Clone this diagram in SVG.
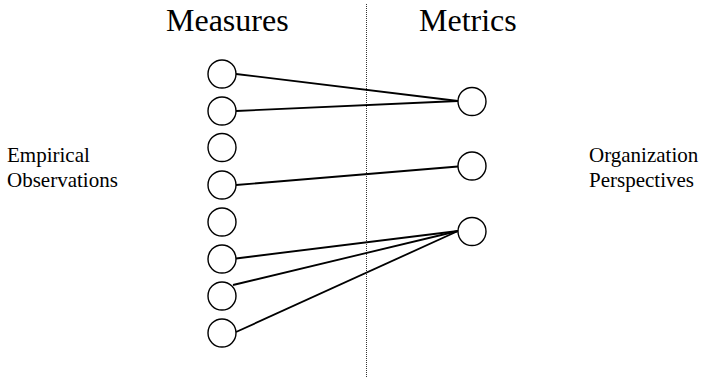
<svg xmlns="http://www.w3.org/2000/svg" width="701" height="377" viewBox="0 0 701 377">
<style>
.n{fill:#fff;stroke:#000;stroke-width:1.4}
.c line{stroke:#000;stroke-width:1.8}
.t{font-family:"Liberation Serif","Times New Roman",serif;fill:#000}
.h{font-size:32px}
.l{font-size:21px}
</style>
<rect width="701" height="377" fill="#fff"/>
<line x1="366.5" y1="4" x2="366.5" y2="377" stroke="#333" stroke-width="1" stroke-dasharray="1,1"/>
<text class="t h" x="166" y="31">Measures</text>
<text class="t h" x="419" y="31">Metrics</text>
<text class="t l" x="7" y="162">Empirical</text>
<text class="t l" x="7" y="187">Observations</text>
<text class="t l" x="589" y="162">Organization</text>
<text class="t l" x="589" y="187">Perspectives</text>
<g class="c">
<line x1="236" y1="74" x2="458" y2="101"/>
<line x1="236" y1="111" x2="458" y2="101"/>
<line x1="236" y1="185" x2="458" y2="166.5"/>
<line x1="236" y1="258.5" x2="458" y2="231"/>
<line x1="233" y1="285" x2="458" y2="231"/>
<line x1="236" y1="332" x2="458" y2="231"/>
</g>
<g id="m1"><circle class="n" cx="222" cy="74" r="14"/></g>
<g id="m2"><circle class="n" cx="222" cy="111" r="14"/></g>
<g id="m3"><circle class="n" cx="222" cy="147.5" r="14"/></g>
<g id="m4"><circle class="n" cx="222" cy="185" r="14"/></g>
<g id="m5"><circle class="n" cx="222" cy="222" r="14"/></g>
<g id="m6"><circle class="n" cx="222" cy="259" r="14"/></g>
<g id="m7"><circle class="n" cx="222" cy="296" r="14"/></g>
<g id="m8"><circle class="n" cx="222" cy="333" r="14"/></g>
<g id="r1"><circle class="n" cx="472" cy="101.5" r="14"/></g>
<g id="r2"><circle class="n" cx="472" cy="166" r="14"/></g>
<g id="r3"><circle class="n" cx="472" cy="231.5" r="14"/></g>
</svg>
